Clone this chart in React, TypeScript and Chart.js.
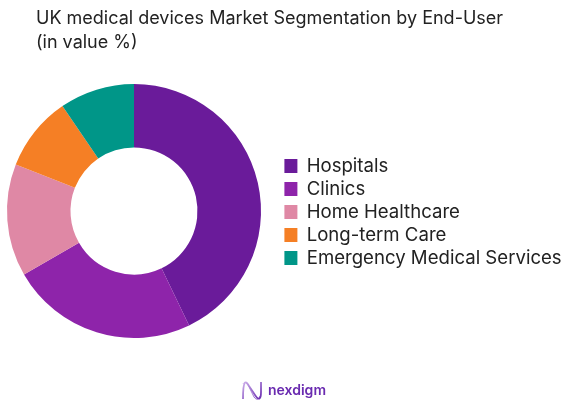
import React, { useEffect, useRef } from "react";
import { Chart, registerables } from "chart.js";

Chart.register(...registerables);

const categories = ["Hospitals", "Clinics", "Home Healthcare", "Long-term Care", "Emergency Medical Services"];
const shares = [45, 25, 15, 10, 10];
const colors = ["#6A1B9A", "#8E24AA", "#DF88A5", "#F57F25", "#009688"];
const titleLines = ["UK medical devices Market Segmentation by End-User", "(in value %)"];
const FONT = "Inter, 'Open Sans', sans-serif";

const placement = {
  id: "placement",
  afterLayout(chart: any) {
    chart.chartArea.left = 7;
    chart.chartArea.right = 261;
    chart.chartArea.top = 84;
    chart.chartArea.bottom = 338;
    chart.chartArea.width = 254;
    chart.chartArea.height = 254;
    if (chart.titleBlock) {
      chart.titleBlock.left = 36;
      chart.titleBlock.right = 574;
    }
    if (chart.legend) {
      chart.legend.left = 280;
      chart.legend.right = 574;
      chart.legend.top += 8;
      chart.legend.bottom += 8;
    }
  },
};

export default function App() {
  const ref = useRef<HTMLCanvasElement>(null);
  useEffect(() => {
    document.body.style.margin = "0";
    document.body.style.background = "#fff";
    const chart = new Chart(ref.current as HTMLCanvasElement, {
      type: "doughnut",
      data: {
        labels: categories,
        datasets: [{ data: shares, backgroundColor: colors, borderWidth: 0, hoverOffset: 0 }],
      },
      plugins: [placement],
      options: {
        responsive: false,
        animation: false,
        devicePixelRatio: 1,
        cutout: "50%",
        layout: { padding: { top: 4, left: 0, right: 0, bottom: 0 } },
        plugins: {
          tooltip: { enabled: false },
          title: {
            display: true,
            text: titleLines,
            align: "start",
            color: "#222222",
            font: { family: FONT, size: 18, weight: "400", lineHeight: 1.35 },
            padding: { top: 2, bottom: 4 },
          },
          legend: {
            display: true,
            position: "right",
            align: "center",
            labels: {
              boxWidth: 13,
              boxHeight: 14,
              padding: 4.4,
              color: "#222222",
              font: { family: FONT, size: 18.6, weight: "400" },
            },
          },
        },
      } as any,
    });
    return () => chart.destroy();
  }, []);
  return (
    <div style={{ position: "absolute", left: 0, top: 0, width: 574, height: 404 }}>
      <canvas ref={ref} width={574} height={404} style={{ display: "block" }} />
      <svg width={574} height={404} style={{ position: "absolute", left: 0, top: 0 }}>
        <defs>
          <linearGradient id="logo" x1="0" x2="1" y1="0" y2="1">
            <stop offset="0" stopColor="#CDB0EA" />
            <stop offset="1" stopColor="#6A2BB0" />
          </linearGradient>
        </defs>
        <path d="M243 399 C243 378 246 381 249 386 L255 395 C259 401 261 399 261 392 L261 382" fill="none" stroke="url(#logo)" strokeWidth="1.8" />
        <path d="M243 384 C245 380 248 384 250 389 L254 397 C256 400 259 400 260 396" fill="none" stroke="url(#logo)" strokeWidth="0.8" />
        <text x="268" y="395" fontFamily={FONT} fontSize="14" fontWeight="600" fill="#6A2BB0">nexdigm</text>
      </svg>
    </div>
  );
}
